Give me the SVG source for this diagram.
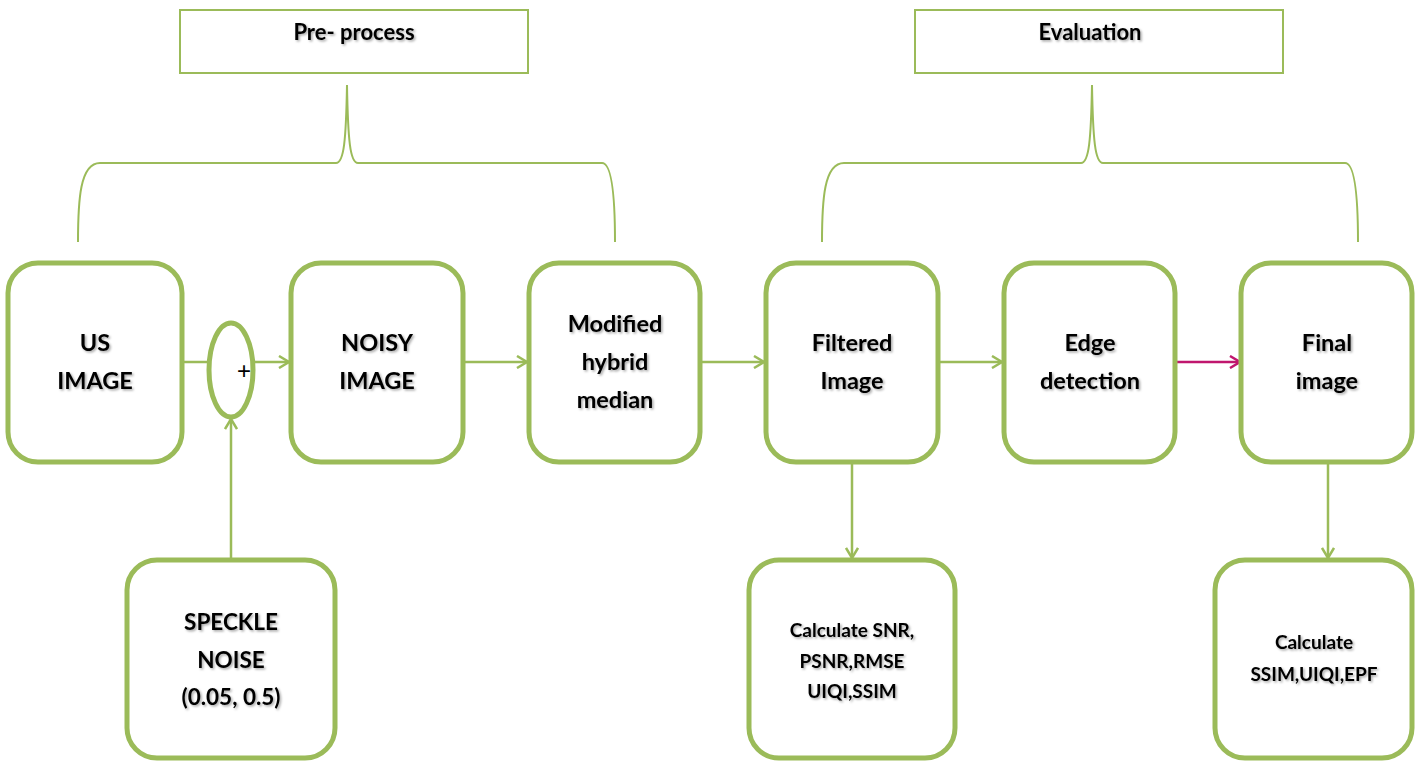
<svg xmlns="http://www.w3.org/2000/svg" width="1417" height="761" viewBox="0 0 1417 761">
<style>
.box{fill:#fff;stroke:#9BBB59;stroke-width:5}
.hdr{fill:#fff;stroke:#9BBB59;stroke-width:2}
.br{fill:none;stroke:#9BBB59;stroke-width:2}
.ln{fill:none;stroke:#9BBB59;stroke-width:2.5}
.t{font-family:Lato,"Open Sans","Liberation Sans",sans-serif;font-weight:bold;fill:#000;text-anchor:middle;filter:url(#sh)}
.big{font-size:23.5px}
.sm{font-size:19px}
.hd{font-size:22px}
</style>
<defs>
<filter id="sh" x="-10%" y="-30%" width="120%" height="160%">
<feDropShadow dx="1.5" dy="1.5" stdDeviation="1" flood-color="#000" flood-opacity="0.35"/>
</filter>
<marker id="ag" markerWidth="14" markerHeight="14" refX="12" refY="7" orient="auto" markerUnits="userSpaceOnUse">
<path d="M2,1 L12,7 L2,13" fill="none" stroke="#9BBB59" stroke-width="2.5"/>
</marker>
<marker id="am" markerWidth="14" markerHeight="14" refX="12" refY="7" orient="auto" markerUnits="userSpaceOnUse">
<path d="M2,1 L12,7 L2,13" fill="none" stroke="#C0166E" stroke-width="2.5"/>
</marker>
</defs>

<g id="connectors">
<path class="br" d="M78,242 C78,200 80,163 100,163 L336,163 C344,163 346,140 347,85 C348,140 350,163 358,163 L602,163 C612,163 615,200 615,242"/>
<path class="br" d="M822,242 C822,200 824,163 844,163 L1081,163 C1089,163 1091,140 1092,85 C1093,140 1095,163 1103,163 L1345,163 C1355,163 1358,200 1358,242"/>
<line class="ln" x1="182" y1="362" x2="209" y2="362"/>
<line class="ln" x1="253" y1="362" x2="289" y2="362" marker-end="url(#ag)"/>
<line class="ln" x1="231" y1="558" x2="231" y2="419" marker-end="url(#ag)"/>
<line class="ln" x1="463" y1="362" x2="527" y2="362" marker-end="url(#ag)"/>
<line class="ln" x1="700" y1="362" x2="764" y2="362" marker-end="url(#ag)"/>
<line class="ln" x1="938" y1="362" x2="1002" y2="362" marker-end="url(#ag)"/>
<line x1="1175" y1="362" x2="1240" y2="362" stroke="#C0166E" stroke-width="2.5" marker-end="url(#am)"/>
<line class="ln" x1="852" y1="462" x2="852" y2="558" marker-end="url(#ag)"/>
<line class="ln" x1="1328" y1="462" x2="1328" y2="558" marker-end="url(#ag)"/>
</g>

<g id="preprocess">
<rect class="hdr" x="180" y="10" width="348" height="63"/>
<text class="t hd" x="354" y="40">Pre- process</text>
</g>
<g id="evaluation">
<rect class="hdr" x="915" y="10" width="368" height="63"/>
<text class="t hd" x="1090" y="40">Evaluation</text>
</g>

<g id="us-image">
<rect class="box" x="8" y="263" width="174" height="199" rx="30"/>
<text class="t big" x="95" y="351">US</text>
<text class="t big" x="95" y="389">IMAGE</text>
</g>
<g id="sum">
<ellipse cx="231" cy="370" rx="22" ry="47" fill="#fff" stroke="#9BBB59" stroke-width="5"/>
<text x="244" y="379" font-family="'Liberation Sans',sans-serif" font-size="24" text-anchor="middle" fill="#000">+</text>
</g>
<g id="noisy-image">
<rect class="box" x="291" y="263" width="172" height="199" rx="30"/>
<text class="t big" x="377" y="351">NOISY</text>
<text class="t big" x="377" y="389">IMAGE</text>
</g>
<g id="modified-hybrid-median">
<rect class="box" x="529" y="263" width="171" height="199" rx="30"/>
<text class="t big" x="615" y="332" font-size="25">Modified</text>
<text class="t big" x="615" y="370" font-size="25">hybrid</text>
<text class="t big" x="615" y="408" font-size="25">median</text>
</g>
<g id="filtered-image">
<rect class="box" x="766" y="263" width="172" height="199" rx="30"/>
<text class="t big" x="852" y="351">Filtered</text>
<text class="t big" x="852" y="389">Image</text>
</g>
<g id="edge-detection">
<rect class="box" x="1004" y="263" width="171" height="199" rx="30"/>
<text class="t big" x="1090" y="351">Edge</text>
<text class="t big" x="1090" y="389">detection</text>
</g>
<g id="final-image">
<rect class="box" x="1241" y="263" width="171" height="199" rx="30"/>
<text class="t big" x="1327" y="351">Final</text>
<text class="t big" x="1327" y="389">image</text>
</g>
<g id="speckle-noise">
<rect class="box" x="127" y="560" width="208" height="198" rx="30"/>
<text class="t" x="231" y="630" font-size="22.5">SPECKLE</text>
<text class="t" x="231" y="668" font-size="22.5">NOISE</text>
<text class="t" x="231" y="705" font-size="22.5">(0.05, 0.5)</text>
</g>
<g id="calc-1">
<rect class="box" x="749" y="560" width="206" height="198" rx="30"/>
<text class="t sm" x="852" y="637">Calculate SNR,</text>
<text class="t sm" x="852" y="668">PSNR,RMSE</text>
<text class="t sm" x="852" y="698">UIQI,SSIM</text>
</g>
<g id="calc-2">
<rect class="box" x="1215" y="560" width="197" height="198" rx="30"/>
<text class="t sm" x="1314" y="649" font-size="18.5">Calculate</text>
<text class="t sm" x="1314" y="681" font-size="18.5">SSIM,UIQI,EPF</text>
</g>
</svg>
